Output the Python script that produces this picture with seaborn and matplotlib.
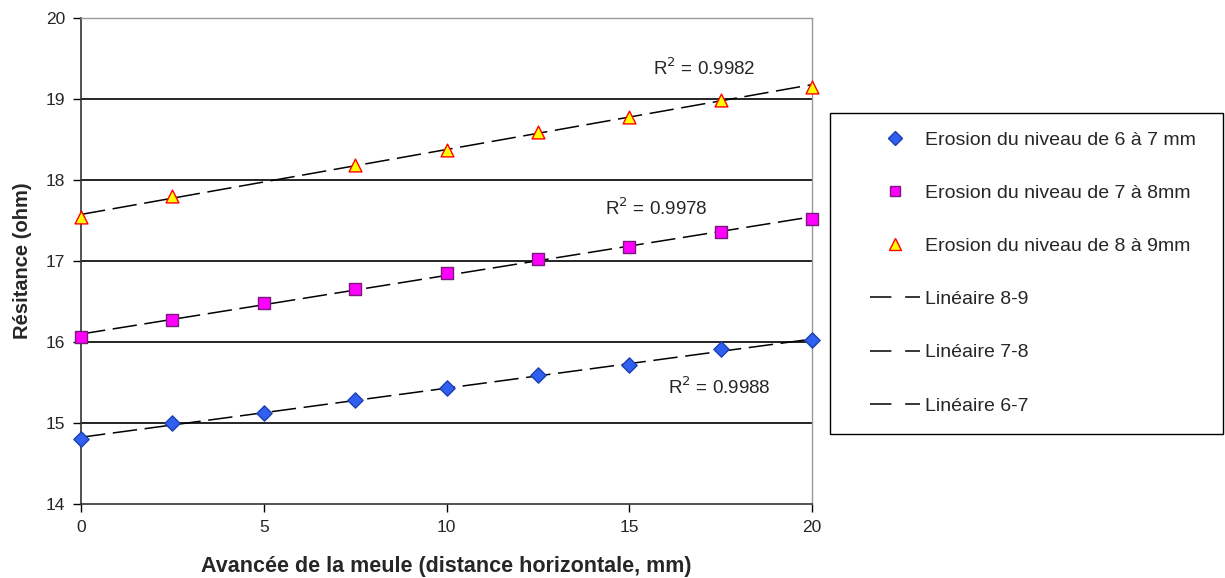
import numpy as np
import pandas as pd
import matplotlib
matplotlib.use("Agg")
import matplotlib.pyplot as plt
import seaborn as sns
from matplotlib.lines import Line2D
from matplotlib.patches import Rectangle

x_mm = [0, 2.5, 5, 7.5, 10, 12.5, 15, 17.5, 20]
erosion_6_7 = [14.80, 15.00, 15.12, 15.29, 15.43, 15.59, 15.71, 15.91, 16.02]
erosion_7_8 = [16.06, 16.27, 16.48, 16.66, 16.85, 17.03, 17.17, 17.36, 17.52]
erosion_8_9 = [17.54, 17.80, np.nan, 18.19, 18.37, 18.59, 18.78, 18.99, 19.15]
series_labels = ["Erosion du niveau de 6 à 7 mm", "Erosion du niveau de 7 à 8mm",
                 "Erosion du niveau de 8 à 9mm"]
trend_labels = ["Linéaire 8-9", "Linéaire 7-8", "Linéaire 6-7"]
x_ticks = [0, 5, 10, 15, 20]
y_ticks = [14, 15, 16, 17, 18, 19, 20]

sns.set_theme(style="white")
plt.rcParams['font.family'] = ['Liberation Sans', 'DejaVu Sans']

W, H = 1225, 578
fig = plt.figure(figsize=(W / 100, H / 100), dpi=100)
ax = fig.add_axes([81/W, 1 - 504/H, (812-81)/W, (504-18)/H])

df = pd.DataFrame({"x": x_mm * 3,
                   "y": erosion_6_7 + erosion_7_8 + erosion_8_9,
                   "serie": [series_labels[0]]*9 + [series_labels[1]]*9 + [series_labels[2]]*9})

styles = [
    dict(marker="D", color="#3060F0", edge="#1A3FB0", s=60, ms=7),
    dict(marker="s", color="#FF00FF", edge="#7A1A7A", s=70, ms=7.5),
    dict(marker="^", color="#FFFF00", edge="#FF0000", s=85, ms=8.5),
]

# gridlines
for yv in [15, 16, 17, 18, 19]:
    ax.axhline(yv, color="black", lw=1.2, zorder=0)

xs_line = np.array([0, 20])
for lab, st in zip(series_labels, styles):
    sub = df[df["serie"] == lab].dropna()
    coef = np.polyfit(sub["x"], sub["y"], 1)
    ax.plot(xs_line, np.polyval(coef, xs_line), color="black", lw=1.1,
            dashes=(16, 5), zorder=2)
    sns.scatterplot(data=sub, x="x", y="y", marker=st["marker"], color=st["color"],
                    edgecolor=st["edge"], linewidth=1.0, s=st["s"], ax=ax,
                    zorder=3, clip_on=False, legend=False)

ax.text(15.65, 19.38, "R$^2$ = 0.9982", fontsize=13.5, ha="left", va="center")
ax.text(14.34, 17.65, "R$^2$ = 0.9978", fontsize=13.5, ha="left", va="center")
ax.text(16.06, 15.44, "R$^2$ = 0.9988", fontsize=13.5, ha="left", va="center")

ax.set_xlim(0, 20)
ax.set_ylim(14, 20)
ax.set_xticks(x_ticks)
ax.set_yticks(y_ticks)
ax.tick_params(axis="both", direction="out", length=5.5, width=1, color="black",
               labelsize=12.5, pad=6, bottom=True, left=True)
for side in ["left", "bottom"]:
    ax.spines[side].set_color("#333333")
    ax.spines[side].set_linewidth(1.2)
for side in ["top", "right"]:
    ax.spines[side].set_color("#999999")
    ax.spines[side].set_linewidth(1.0)
ax.set_xlabel("Avancée de la meule (distance horizontale, mm)", fontsize=15.5,
              fontweight="bold", labelpad=15)
ax.set_ylabel("Résitance (ohm)", fontsize=14.5, fontweight="bold", labelpad=10)

# legend frame
fig.patches.append(Rectangle((830/W, 1 - 434/H), (1223-830)/W, (434-113)/H,
                             transform=fig.transFigure, facecolor="white",
                             edgecolor="black", lw=1.0, zorder=0))

handles = [Line2D([], [], ls="none", marker=st["marker"], markerfacecolor=st["color"],
                  markeredgecolor=st["edge"], markersize=st["ms"]) for st in styles]
handles += [Line2D([], [], color="black", lw=1.1, dashes=(14, 9)) for _ in range(3)]
labels = series_labels + trend_labels
fs = 14
leg = fig.legend(handles, labels, loc="upper left",
                 bbox_to_anchor=(870/W, 1 - 131/H), fontsize=fs,
                 frameon=False, labelspacing=1.83,
                 handlelength=50/(fs*100/72), handletextpad=5/(fs*100/72),
                 borderpad=0, borderaxespad=0)

fig.savefig("out.png", dpi=100)
